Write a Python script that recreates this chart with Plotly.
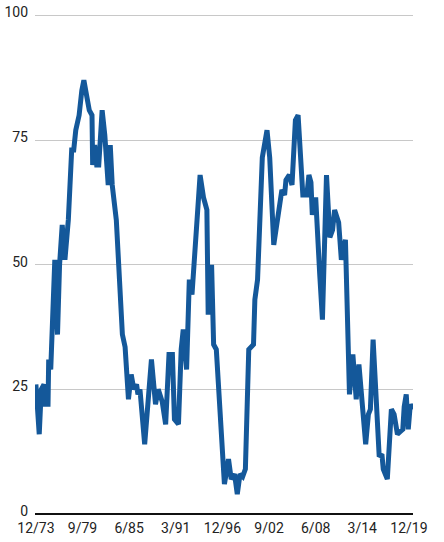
import plotly.graph_objects as go

# monthly readings (vertices of the line), 12/73 - mid 2020
dates = [
    "1973-12-01", "1974-05-01", "1974-08-01", "1974-12-01", "1975-02-01", "1975-06-01",
    "1975-07-01", "1975-10-01", "1976-04-01", "1976-08-01", "1976-11-01", "1977-03-01",
    "1977-07-01", "1977-12-01", "1978-05-01", "1978-08-01", "1978-11-01", "1979-04-01",
    "1979-08-01", "1979-11-01", "1980-03-01", "1980-07-01", "1980-11-01", "1980-12-01",
    "1981-03-01", "1981-06-01", "1981-09-01", "1982-02-01", "1982-06-01", "1982-11-01",
    "1983-02-01", "1983-05-01", "1983-11-01", "1984-03-01", "1984-08-01", "1984-12-01",
    "1985-05-01", "1985-09-01", "1986-01-01", "1986-05-01", "1986-07-01", "1986-10-01",
    "1987-05-01", "1988-03-01", "1988-09-01", "1989-01-01", "1989-07-01", "1989-12-01",
    "1990-05-01", "1990-10-01", "1991-01-01", "1991-07-01", "1991-11-01", "1992-02-01",
    "1992-07-01", "1992-11-01", "1993-03-01", "1994-03-01", "1994-08-01", "1995-01-01",
    "1995-03-01", "1995-08-01", "1995-11-01", "1996-03-01", "1997-03-01", "1997-09-01",
    "1998-01-01", "1998-06-01", "1998-10-01", "1999-02-01", "1999-06-01", "1999-10-01",
    "2000-03-01", "2000-10-01", "2000-12-01", "2001-04-01", "2001-11-01", "2002-06-01",
    "2002-10-01", "2003-04-01", "2003-10-01", "2004-04-01", "2004-08-01", "2004-10-01",
    "2005-03-01", "2005-07-01", "2005-12-01", "2006-04-01", "2006-11-01", "2007-05-01",
    "2007-08-01", "2007-11-01", "2008-01-01", "2008-06-01", "2008-12-01", "2009-04-01",
    "2009-10-01", "2010-03-01", "2010-07-01", "2010-10-01", "2011-04-01", "2011-08-01",
    "2012-02-01", "2012-08-01", "2013-01-01", "2013-06-01", "2013-10-01", "2014-02-01",
    "2014-08-01", "2014-12-01", "2015-03-01", "2015-07-01", "2015-12-01", "2016-04-01",
    "2016-08-01", "2016-10-01", "2017-04-01", "2017-10-01", "2018-02-01", "2018-07-01",
    "2018-11-01", "2019-03-01", "2019-05-01", "2019-08-01", "2019-11-01", "2020-02-01",
    "2020-06-01",
]
values = [
    26, 16, 25, 26, 22, 22,
    31, 29, 51, 36, 50, 58,
    51, 59, 73, 73, 77, 80,
    85, 87, 84, 81, 80, 70,
    74, 70, 70, 81, 76, 66,
    74, 66, 59, 47.5, 36, 33.5,
    23, 28, 25, 26, 24, 25,
    14, 31, 22, 25, 22.5, 18,
    32, 32, 19, 18, 33, 37,
    29, 47, 44, 68, 63.5, 61,
    40, 50, 34, 33, 6, 11,
    7, 8, 4, 8, 7.5, 9,
    33, 34, 43, 47, 71.5, 77,
    71.5, 54, 60, 65, 64, 67,
    68, 66, 79, 80, 64, 64,
    68, 66.5, 60, 63.5, 48, 39,
    68, 55.5, 57, 61, 58.5, 51,
    55, 24, 32, 23, 30, 23,
    14, 20, 21, 35, 19, 11.5,
    12, 9, 7, 21, 20, 16,
    16.5, 17, 21.5, 24, 17, 22,
    21,
]

tick_dates = ["1973-12-01", "1979-09-01", "1985-06-01", "1991-03-01", "1996-12-01",
              "2002-09-01", "2008-06-01", "2014-03-01", "2019-12-01"]
tick_labels = ["12/73", "9/79", "6/85", "3/91", "12/96", "9/02", "6/08", "3/14", "12/19"]
y_ticks = [0, 25, 50, 75, 100]

fig = go.Figure()
fig.add_trace(go.Scatter(x=dates, y=values, mode="lines",
                         line=dict(color="#14589a", width=5),
                         hoverinfo="skip", showlegend=False))

fig.update_layout(
    width=444, height=542,
    margin=dict(l=35, r=31, t=14, b=28),
    paper_bgcolor="white", plot_bgcolor="white",
    font=dict(family="Roboto, Liberation Sans", size=14, color="#222222"),
)
fig.update_xaxes(type="date", range=["1973-10-22", "2020-06-01"],
                 tickvals=tick_dates, ticktext=tick_labels,
                 showgrid=False, zeroline=False, showline=False,
                 ticks="", ticklabelstandoff=4, automargin=False)
fig.update_yaxes(range=[0, 100.3], tickvals=y_ticks,
                 showgrid=True, gridcolor="#c8c8c8", gridwidth=1,
                 zeroline=True, zerolinecolor="#111111", zerolinewidth=1.5,
                 showline=False, ticks="", ticklabelstandoff=6, ticklabelshift=-3,
                 ticklabeloverflow="allow", automargin=False)

# drop the default page margin so the figure sits at the window corner
fig.write_html("out.html", config={"displayModeBar": False},
               post_script="document.body.style.margin = '0';")
